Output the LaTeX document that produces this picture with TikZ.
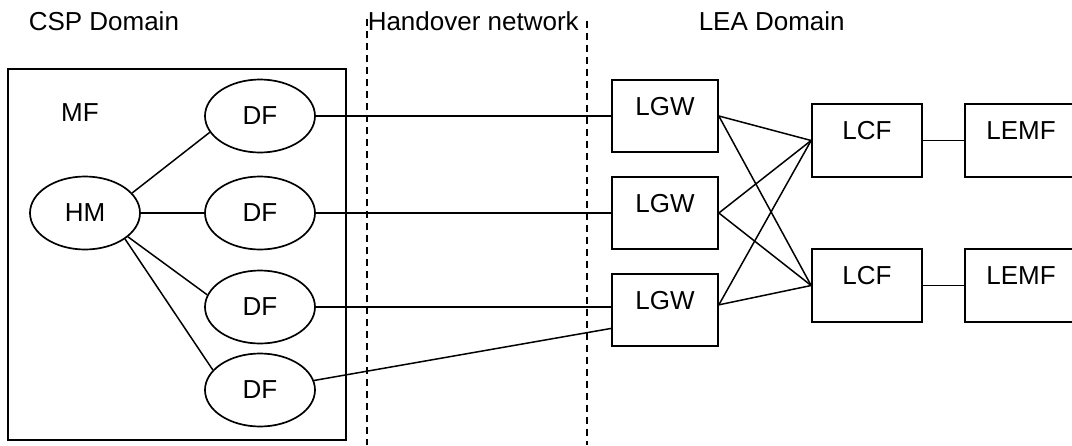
\documentclass[tikz,border=0pt]{standalone}
\usepackage{fontspec}
\setmainfont{Liberation Sans}
\usetikzlibrary{shapes.geometric,calc}
\begin{document}
\begin{tikzpicture}[x=1pt,y=-1pt, line width=1.5pt,
  every node/.style={font=\fontsize{26}{31}\selectfont, inner sep=0pt},
  ell/.style={draw, ellipse, line width=1.7pt, minimum width=110pt, minimum height=73pt},
  box/.style={draw, rectangle, line width=1.7pt, minimum width=106pt, minimum height=72pt, text height=18pt, text depth=20pt},
  wbox/.style={box, minimum width=110pt, minimum height=73pt},
  lbl/.style={anchor=base west},
  hdash/.style={dash pattern=on 7pt off 5pt, line width=2pt}]
\clip (0,0) rectangle (1072,445);
\useasboundingbox (0,0) rectangle (1072,445);
% headings
\node[lbl] (csp) at (28,30) {CSP Domain};
\node[lbl] (hov) at (367,30) {Handover network};
\node[lbl] (lea) at (698,30) {LEA Domain};
% handover dashed borders
\coordinate (h1t) at (367,19);
\coordinate (h1b) at (367,445);
\coordinate (h2t) at (587,21);
\coordinate (h2b) at (587,445);
\draw[hdash] (h1t) -- (h1b);
\draw[hdash] (h2t) -- (h2b);
% MF box
\node[draw, line width=1.7pt, minimum width=338pt, minimum height=371pt] (MFbox) at (177,254.5) {};
\node (MF) at (80,113) {MF};
% ellipses
\node[ell] (HM) at (85,213) {HM};
\node[ell] (DF1) at (260,116) {DF};
\node[ell] (DF2) at (260,213) {DF};
\node[ell] (DF3) at (260,307) {DF};
\node[ell] (DF4) at (260,390) {DF};
% LGW
\node[box] (LGW1) at (665,116) {LGW};
\node[box] (LGW2) at (665,213) {LGW};
\node[box] (LGW3) at (665,310) {LGW};
% LCF / LEMF
\node[wbox] (LCF1) at (867,140.5) {LCF};
\node[wbox] (LCF2) at (867,285.5) {LCF};
\node[wbox, minimum width=112pt] (LEMF1) at (1021,140.5) {LEMF};
\node[wbox, minimum width=112pt] (LEMF2) at (1021,285.5) {LEMF};
% HM to DF
\draw (HM.23) -- (DF1.198);
\draw (HM.east) -- (DF2.west);
\draw (HM.-29) -- (DF3.167);
\draw (HM.-33) -- (DF4.157);
% DF to LGW
\draw (DF1.east) -- (DF1.east -| LGW1.west);
\draw (DF2.east) -- (DF2.east -| LGW2.west);
\draw (DF3.east) -- (DF3.east -| LGW3.west);
\draw (DF4.10) -- ($(LGW3.north west)!0.75!(LGW3.south west)$);
% LGW to LCF
\coordinate (g3) at ($(LGW3.north east)!0.43!(LGW3.south east)$);
\draw (LGW1.east) -- (LCF1.west);
\draw (LGW1.east) -- (LCF2.west);
\draw (LGW2.east) -- (LCF1.west);
\draw (LGW2.east) -- (LCF2.west);
\draw (g3) -- (LCF1.west);
\draw (g3) -- (LCF2.west);
% LCF to LEMF
\draw[line width=1.2pt] (LCF1.east) -- (LEMF1.west);
\draw[line width=1.2pt] (LCF2.east) -- (LEMF2.west);
\end{tikzpicture}
\end{document}
